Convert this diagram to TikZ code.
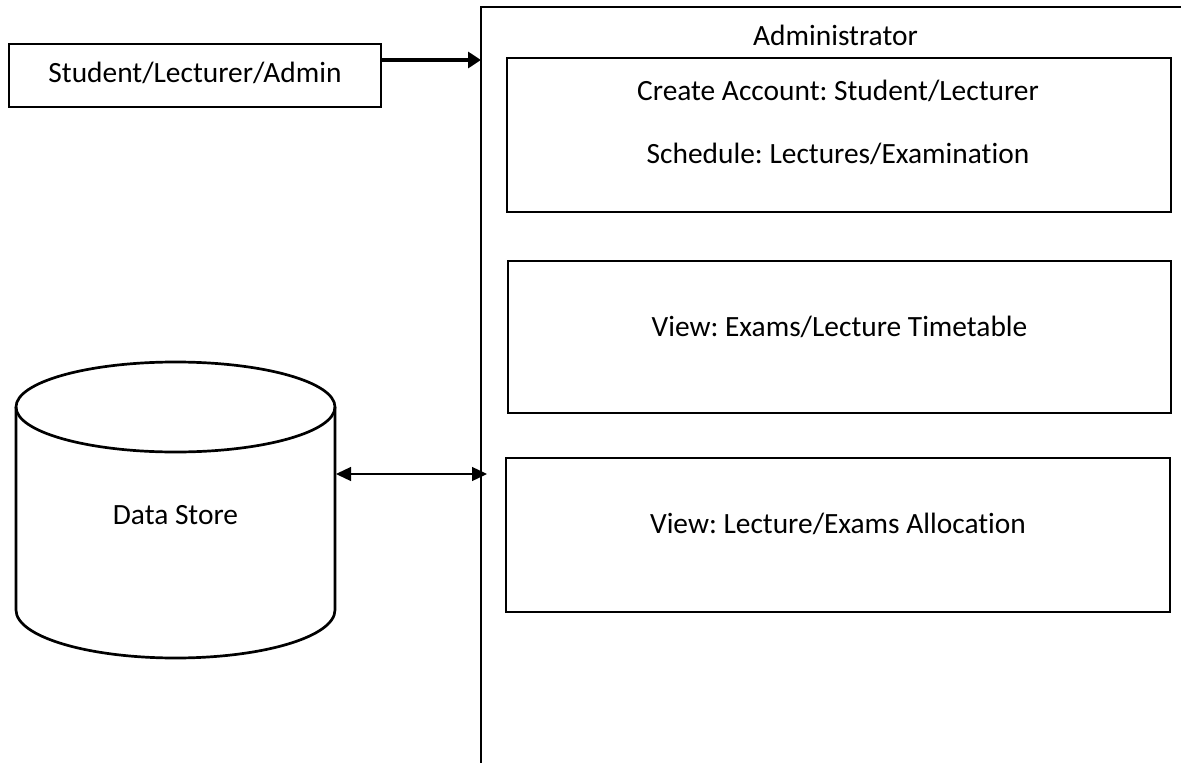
\documentclass[tikz,border=0pt]{standalone}
\usepackage{fontspec}
\setmainfont{Carlito}[Ligatures={NoCommon}]
\usetikzlibrary{arrows.meta}
\frenchspacing
\begin{document}
\begin{tikzpicture}[x=1pt,y=-1pt,
  box/.style={draw,line width=2.7pt,rectangle,inner sep=0pt},
  txt/.style={anchor=base,inner sep=0pt,font=\fontsize{29.4}{34}\selectfont},
  frameline/.style={line width=2.7pt},
  thickarrow/.style={line width=3.5pt,-{Triangle[length=13pt,width=16pt]}},
  thinarrow/.style={line width=1.3pt,{Triangle[length=15pt,width=14pt]}-{Triangle[length=15pt,width=14pt]}},
]
\useasboundingbox (0,0) rectangle (1181,763);
% user box
\node[box,minimum width=372pt,minimum height=63pt] (stud) at (195,75.5) {};
\node[txt] (studtxt) at (195,82) {Student/Lecturer/Admin};
% system frame
\coordinate (ftop) at (481,7);
\draw[frameline] (481,770) -- (ftop) -- (1190,7);
\node[txt] (admin) at (835.5,45) {Administrator};
% inner boxes
\node[box,minimum width=664pt,minimum height=154pt] (b1) at (839,135) {};
\node[txt] (b1a) at (838,100) {Create Account: Student/Lecturer};
\node[txt] (b1b) at (838,163) {Schedule: Lectures/Examination};
\node[box,minimum width=663pt,minimum height=152pt] (b2) at (839.5,337) {};
\node[txt] (b2a) at (839.5,336) {View: Exams/Lecture Timetable};
\node[box,minimum width=664pt,minimum height=154pt] (b3) at (838,535) {};
\node[txt] (b3a) at (838,533) {View: Lecture/Exams Allocation};
% data store cylinder
\draw[frameline] (16,407) -- (16,610)
  .. controls (16,636.5) and (87.4,658) .. (175.5,658)
  .. controls (263.6,658) and (335,636.5) .. (335,610) -- (335,407);
\draw[frameline] (175.5,407) ellipse [x radius=159.5, y radius=45];
\node[txt] (dstxt) at (175.5,524) {Data Store};
% connectors
\coordinate (aIn) at (481,60);
\draw[thickarrow] (stud.east |- aIn) -- (aIn);
\coordinate (dsR) at (336,474);
\coordinate (fIn) at (487,474);
\draw[thinarrow] (dsR) -- (fIn);
\end{tikzpicture}
\end{document}
